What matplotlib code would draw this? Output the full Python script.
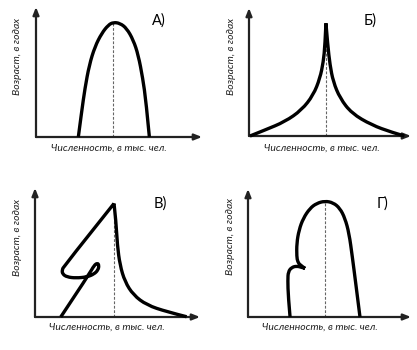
import matplotlib
matplotlib.use("Agg")
import matplotlib.pyplot as plt
from matplotlib.path import Path
from matplotlib.patches import PathPatch
import numpy as np

plt.rcParams['font.family'] = ['Lato', 'DejaVu Sans']

# ---- data (x: численность, y: возраст), units 0..100 per panel ----
a_x = [25.5, 27.5, 29.5, 32.1, 35.5, 39.6, 43.6, 46.6, 50.6, 54.6, 58.6, 61.6, 64.3, 66.3, 68.3]
a_y = [0.0, 19.5, 37.5, 55.4, 69.5, 79.8, 86.2, 88.2, 87.5, 83.6, 74.6, 63.1, 45.2, 27.2, 0.0]

b_x = [0.6, 9.9, 22.2, 32.5, 39.7, 43.8, 45.9, 46.9, 47.5, 48.6, 50.0, 52.0, 56.2, 63.4, 75.7, 88.1, 95.9]
b_y = [0.0, 4.7, 11.2, 20.3, 32.0, 45.1, 58.0, 71.1, 88.0, 71.1, 55.5, 42.4, 29.5, 17.7, 8.6, 2.9, 0.0]

v_x = [15.6, 33.0, 35.8, 37.9, 38.8, 38.2, 35.8, 31.5, 24.8, 19.4, 16.7, 16.4, 17.6,
       47.9, 49.1, 49.9, 51.5, 54.5, 59.6, 67.7, 79.8, 91.9]
v_y = [0.0, 33.5, 40.0, 41.9, 39.9, 36.4, 33.3, 31.0, 30.2, 31.0, 33.3, 36.4, 39.5,
       88.0, 73.9, 55.8, 40.3, 27.4, 17.1, 9.3, 4.1, 0.2]

g_x = [25.8, 24.7, 24.4, 24.7, 26.8, 29.9, 32.9, 35.0, 31.9, 30.5, 29.9, 29.9, 31.3, 33.9,
       38.0, 42.1, 47.2, 52.3, 56.4, 59.5, 62.0, 64.0, 66.1, 68.7]
g_y = [0.0, 15.9, 28.9, 35.4, 38.8, 39.8, 38.8, 38.0, 40.6, 43.2, 47.1, 57.6, 68.0, 77.1,
       84.9, 88.8, 90.6, 89.3, 84.9, 77.1, 65.4, 47.1, 26.3, 0.0]

panel_labels = ["А)", "Б)", "В)", "Г)"]
xlabel = "Численность, в тыс. чел."
ylabel = "Возраст, в годах"

# points where the curve has a sharp corner (index into the arrays)
corners = [[], [8], [13], [7]]

W, H = 417, 350
fig = plt.figure(figsize=(W / 100, H / 100), dpi=100)

# layout in pixels: origin x, origin y, right tip x, top tip y
layout = [
    (36, 137, 202, 7),
    (249, 136, 411, 8),
    (35, 317, 200, 188),
    (248, 317, 411, 189),
]
label_pos = [(159, 21), (370, 21), (160, 204), (382, 204)]
xlab_pos = [(109, 148), (322, 148), (107, 327), (320, 327)]
ylab_pos = [(17, 56), (231, 56), (17, 237), (230, 236)]

curves = [(a_x, a_y), (b_x, b_y), (v_x, v_y), (g_x, g_y)]


def smooth_path(xs, ys, brk):
    pts = np.column_stack([xs, ys])
    idx = [0] + sorted(brk) + [len(pts) - 1]
    verts, codes = [], []
    for s, e in zip(idx[:-1], idx[1:]):
        seg = pts[s:e + 1]
        verts.append(seg[0]); codes.append(Path.MOVETO)
        if len(seg) == 2:
            verts.append(seg[1]); codes.append(Path.LINETO)
            continue
        for i in range(1, len(seg) - 2):
            verts += [seg[i], (seg[i] + seg[i + 1]) / 2]
            codes += [Path.CURVE3, Path.CURVE3]
        verts += [seg[-2], seg[-1]]
        codes += [Path.CURVE3, Path.CURVE3]
    return Path(verts, codes)


for i, ((ox, oy, rx, ty), (cx, cy)) in enumerate(zip(layout, curves)):
    ax = fig.add_axes([ox / W, 1 - oy / H, (rx - ox) / W, (oy - ty) / H])
    ax.set_xlim(0, 100)
    ax.set_ylim(0, 100)
    ax.axis('off')
    arrow = dict(arrowstyle='-|>,head_length=0.45,head_width=0.18', color='#222222',
                 lw=1.6, shrinkA=0, shrinkB=0)
    ax.annotate('', xy=(1, 0), xytext=(0, 0), xycoords='axes fraction', arrowprops=arrow)
    ax.annotate('', xy=(0, 1), xytext=(0, 0), xycoords='axes fraction', arrowprops=arrow)
    cx = np.asarray(cx); cy = np.asarray(cy)
    k = int(np.argmax(cy))
    ax.plot([cx[k], cx[k]], [0, cy[k]], color='#666666', lw=0.8, ls=(0, (2.5, 1.5)), zorder=2)
    patch = PathPatch(smooth_path(cx, cy, corners[i]), facecolor='none', edgecolor='black',
                      lw=2.4, joinstyle='round', capstyle='butt', zorder=3, clip_on=False)
    ax.add_patch(patch)
    lx, ly = label_pos[i]
    fig.text(lx / W, 1 - ly / H, panel_labels[i], fontsize=10.5, ha='center', va='center')
    xx, xy = xlab_pos[i]
    fig.text(xx / W, 1 - xy / H, xlabel, fontsize=7.5, style='italic', ha='center', va='center',
             color='#222222')
    yx, yy = ylab_pos[i]
    fig.text(yx / W, 1 - yy / H, ylabel, fontsize=7.5, style='italic', ha='center', va='center',
             rotation=90, color='#222222')

fig.savefig("out.png", dpi=100)
